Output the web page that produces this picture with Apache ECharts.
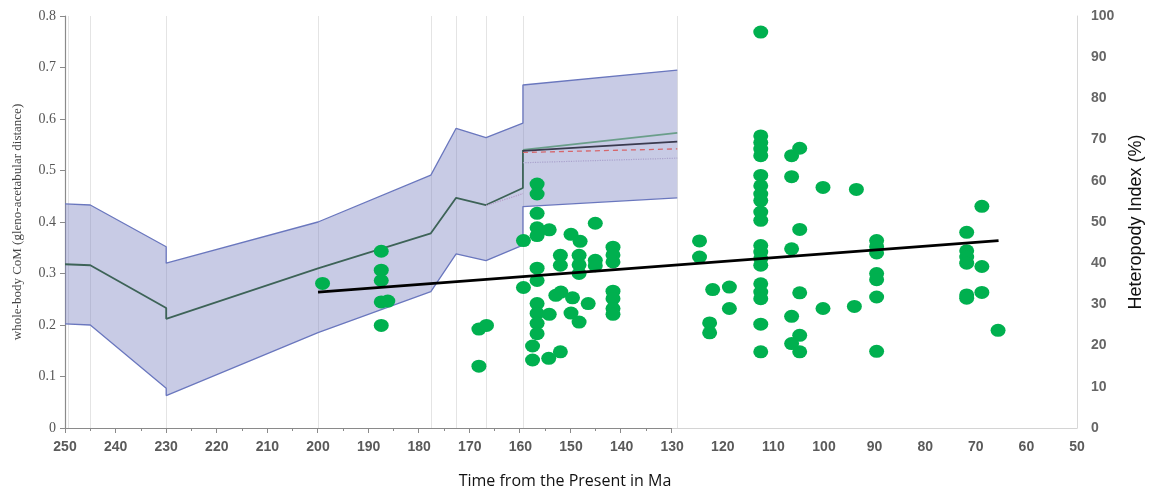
<!DOCTYPE html>
<html>
<head>
<meta charset="utf-8">
<script src="https://cdn.jsdelivr.net/npm/echarts@6/dist/echarts.min.js"></script>
<style>html,body{margin:0;padding:0;background:#fff}#chart{width:1160px;height:497px}</style>
</head>
<body>
<div id="chart"></div>
<script>
// ---- data ----
var xTicks = [250, 240, 230, 220, 210, 200, 190, 180, 170, 160, 150, 140, 130, 120, 110, 100, 90, 80, 70, 60, 50];
var periodBounds = [249.4, 245, 230, 200, 177.7, 172.7, 166.8, 159.5, 129];
// CoM confidence band (Ma, lower, upper)
var bandX     = [250,   245,   230,   230,   200,   177.7, 172.7, 166.8, 159.5, 159.5, 129];
var bandLower = [0.202, 0.200, 0.077, 0.063, 0.185, 0.265, 0.338, 0.325, 0.355, 0.430, 0.447];
var bandUpper = [0.435, 0.433, 0.352, 0.320, 0.400, 0.491, 0.582, 0.564, 0.592, 0.666, 0.695];
// CoM median
var medianX = [250,   245,   230,   230,   200,   177.7, 172.7, 166.8, 159.5, 159.5];
var medianY = [0.318, 0.316, 0.233, 0.212, 0.310, 0.378, 0.447, 0.433, 0.466, 0.540];
// post-160 Ma projections
var projX = [159.5, 129];
var projGreen  = [0.540, 0.573];
var projDark   = [0.538, 0.556];
var projRed    = [0.535, 0.542];
var projDotted = [0.515, 0.524];
var preDottedX = [166.8, 159.5];
var preDottedY = [0.432, 0.455];
// Heteropody index points
var hetX = [199.1,
  187.5, 187.5, 187.5, 187.5, 186.2, 187.5,
  168.2, 166.7, 168.2,
  156.7, 156.7, 156.7, 156.7, 156.7, 156.7, 156.7, 156.7, 156.7, 156.7, 156.7,
  154.3, 159.4, 145.2, 150.0, 148.2,
  152.1, 152.1, 148.4, 148.4, 148.4, 145.2, 145.2,
  141.7, 141.7, 141.7, 141.7, 141.7, 141.7, 141.7,
  159.4, 153.0, 152.0, 149.7, 154.3, 150.0, 148.4, 146.6,
  157.6, 157.6, 154.4, 152.1,
  124.6, 124.6, 122.0, 118.7, 118.7, 122.6, 122.6,
  112.5, 112.5, 112.5, 112.5, 112.5, 112.5, 112.5, 112.5, 112.5, 112.5, 112.5,
  112.5, 112.5, 112.5, 112.5, 112.5, 112.5, 112.5, 112.5, 112.5,
  106.4, 104.8, 106.4, 100.2, 104.8, 106.4, 104.8, 100.2, 106.4, 104.8, 106.4, 104.8,
  93.6, 94.0,
  89.6, 89.6, 89.6, 89.6, 89.6, 89.6, 89.6,
  71.8, 71.8, 71.8, 71.8, 71.8, 71.8,
  68.8, 68.8, 68.8,
  65.6];
var hetY = [35.1,
  42.9, 38.3, 35.8, 30.6, 30.8, 24.9,
  24.0, 24.9, 15.0,
  59.2, 56.8, 52.1, 48.6, 46.7, 38.8, 35.8, 30.2, 27.8, 25.4, 22.9,
  48.1, 45.5, 49.7, 47.0, 45.3,
  41.9, 39.5, 41.9, 39.6, 37.5, 40.7, 39.4,
  43.9, 42.0, 40.3, 33.2, 31.4, 29.0, 27.6,
  34.1, 32.2, 33.0, 31.6, 27.6, 27.9, 25.7, 30.2,
  19.9, 16.5, 16.9, 18.5,
  45.4, 41.5, 33.6, 34.2, 29.0, 25.5, 23.1,
  96.1, 70.9, 69.3, 67.7, 66.1, 61.3, 58.8, 56.8, 55.2, 52.4, 50.4,
  44.3, 42.7, 41.1, 39.5, 35.0, 33.0, 31.4, 25.2, 18.5,
  66.1, 67.9, 61.0, 58.4, 48.2, 43.5, 32.8, 29.0, 27.1, 22.5, 20.5, 18.5,
  57.9, 29.5,
  45.5, 44.0, 42.5, 37.5, 36.0, 31.8, 18.6,
  47.5, 43.0, 41.5, 40.0, 32.3, 31.5,
  53.8, 39.2, 32.9,
  23.7];
var trendX = [200, 65.5];
var trendY = [33.0, 45.5];

function zip(a, b) { return a.map(function (v, i) { return [v, b[i]]; }); }

var chart = echarts.init(document.getElementById('chart'), null, {renderer: 'canvas'});
var ellipse = 'path://M0,50 A50,50 0 1,1 100,50 A50,50 0 1,1 0,50 Z';
var sans = 'Liberation Sans';

function renderBand(params, api) {
  var pts = [];
  for (var i = 0; i < bandX.length; i++) pts.push(api.coord([bandX[i], bandUpper[i]]));
  for (var j = bandX.length - 1; j >= 0; j--) pts.push(api.coord([bandX[j], bandLower[j]]));
  return {
    type: 'polygon',
    shape: {points: pts},
    style: {fill: 'rgba(118,126,190,0.40)', stroke: 'none'},
    silent: true
  };
}

var option = {
  animation: false,
  backgroundColor: '#fff',
  grid: [
    {left: 65, right: 83, top: 16, bottom: 69},
    {left: 65, width: 606, top: 16, bottom: 69}
  ],
  xAxis: [
    {
      type: 'value', gridIndex: 0, min: 50, max: 250, interval: 10, inverse: true,
      axisLine: {show: true, lineStyle: {color: '#d4d4d4', width: 1}},
      axisTick: {show: false},
      splitLine: {show: false},
      axisLabel: {
        margin: 12, color: '#5a5a5a', fontFamily: sans, fontWeight: 'bold', fontSize: 14,
        formatter: function (v) { return xTicks.indexOf(v) >= 0 ? String(v) : ''; }
      },
      name: 'Time from the Present in Ma', nameLocation: 'middle', nameGap: 45,
      nameTextStyle: {color: '#111', fontFamily: 'Open Sans', fontSize: 16, padding: [0, 12, 0, 0]}
    },
    {
      type: 'value', gridIndex: 1, min: 130, max: 250, interval: 10, inverse: true,
      axisLine: {show: true, lineStyle: {color: '#8a8a8a', width: 1.2}},
      axisTick: {show: true, length: 5, lineStyle: {color: '#8a8a8a'}},
      minorTick: {show: true, splitNumber: 2, length: 3, lineStyle: {color: '#8a8a8a'}},
      axisLabel: {show: false},
      splitLine: {show: false}
    }
  ],
  yAxis: [
    {
      type: 'value', gridIndex: 0, min: 0, max: 0.8, interval: 0.1, position: 'left',
      axisLine: {show: true, lineStyle: {color: '#8a8a8a', width: 1.2}},
      axisTick: {show: true, length: 5, lineStyle: {color: '#8a8a8a'}},
      splitLine: {show: false},
      axisLabel: {margin: 9, color: '#555', fontFamily: 'Liberation Serif', fontSize: 14,
        formatter: function (v) { return v === 0 ? '0' : v.toFixed(1); }},
      name: 'whole-body CoM (gleno-acetabular distance)', nameLocation: 'middle', nameGap: 41, nameRotate: 90,
      nameTextStyle: {color: '#444', fontFamily: 'Liberation Serif', fontSize: 13}
    },
    {
      type: 'value', gridIndex: 0, min: 0, max: 100, interval: 10, position: 'right',
      axisLine: {show: true, lineStyle: {color: '#d8d8d8', width: 1}},
      axisTick: {show: false},
      splitLine: {show: false},
      axisLabel: {margin: 14, color: '#666', fontFamily: sans, fontWeight: 'bold', fontSize: 14},
      name: 'Heteropody Index (%)', nameLocation: 'middle', nameGap: 50, nameRotate: 90,
      nameTextStyle: {color: '#111', fontFamily: sans, fontSize: 18}
    },
    {type: 'value', gridIndex: 1, min: 0, max: 0.8, show: false}
  ],
  series: [
    {
      name: 'gridLines', type: 'line', xAxisIndex: 0, yAxisIndex: 0, data: [], z: 0,
      markLine: {
        silent: true, symbol: ['none', 'none'], label: {show: false}, z: 0,
        lineStyle: {color: '#e4e4e4', type: 'solid', width: 1},
        data: periodBounds.map(function (v) { return {xAxis: v}; })
      }
    },
    {
      name: 'bandFill', type: 'custom', xAxisIndex: 0, yAxisIndex: 0,
      data: [[bandX[0], bandLower[0]]], renderItem: renderBand, silent: true, z: 1
    },
    {
      name: 'bandLow', type: 'line', xAxisIndex: 0, yAxisIndex: 0,
      data: zip(bandX, bandLower), symbol: 'none', silent: true,
      lineStyle: {color: '#6a77be', width: 1.3}, z: 2
    },
    {
      name: 'bandUp', type: 'line', xAxisIndex: 0, yAxisIndex: 0,
      data: zip(bandX, bandUpper), symbol: 'none', silent: true,
      lineStyle: {color: '#6a77be', width: 1.3}, z: 2
    },
    {
      name: 'median', type: 'line', xAxisIndex: 0, yAxisIndex: 0,
      data: zip(medianX, medianY), symbol: 'none', silent: true,
      lineStyle: {color: '#3d6357', width: 1.8}, z: 3
    },
    {
      name: 'preDotted', type: 'line', xAxisIndex: 0, yAxisIndex: 0,
      data: zip(preDottedX, preDottedY), symbol: 'none', silent: true,
      lineStyle: {color: '#b49ac6', width: 1.2, type: 'dotted'}, z: 3
    },
    {
      name: 'projDotted', type: 'line', xAxisIndex: 0, yAxisIndex: 0,
      data: zip(projX, projDotted), symbol: 'none', silent: true,
      lineStyle: {color: '#a9a2cc', width: 1.2, type: 'dotted'}, z: 3
    },
    {
      name: 'projRed', type: 'line', xAxisIndex: 0, yAxisIndex: 0,
      data: zip(projX, projRed), symbol: 'none', silent: true,
      lineStyle: {color: '#d6676c', width: 1.3, type: [5, 4]}, z: 3
    },
    {
      name: 'projGreen', type: 'line', xAxisIndex: 0, yAxisIndex: 0,
      data: zip(projX, projGreen), symbol: 'none', silent: true,
      lineStyle: {color: '#6a9e8a', width: 1.6}, z: 3
    },
    {
      name: 'projDark', type: 'line', xAxisIndex: 0, yAxisIndex: 0,
      data: zip(projX, projDark), symbol: 'none', silent: true,
      lineStyle: {color: '#3a3a4e', width: 1.8}, z: 3
    },
    {
      name: 'heteropody', type: 'scatter', xAxisIndex: 0, yAxisIndex: 1,
      data: zip(hetX, hetY), symbol: ellipse, symbolSize: [15, 13],
      itemStyle: {color: '#00b04f', opacity: 1}, z: 4
    },
    {
      name: 'trend', type: 'line', xAxisIndex: 0, yAxisIndex: 1,
      data: zip(trendX, trendY), symbol: 'none', silent: true,
      lineStyle: {color: '#000', width: 2.8}, z: 5
    }
  ]
};
chart.setOption(option);
</script>
</body>
</html>
